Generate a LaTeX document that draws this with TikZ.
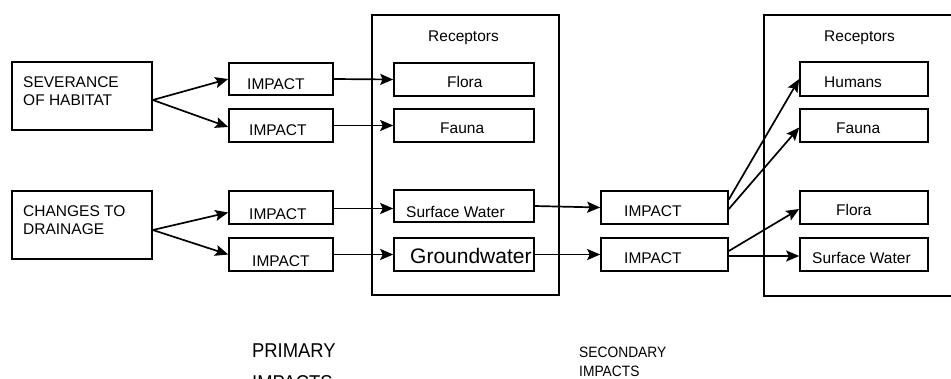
\documentclass[tikz,border=0pt]{standalone}
\usepackage{fontspec}
\setmainfont{Liberation Sans}
\usetikzlibrary{arrows.meta,calc}
\tikzset{
  bx/.style n args={2}{draw, line width=1.6pt, rectangle, inner sep=0pt, minimum width=#1, minimum height=#2},
  txt/.style={inner sep=0pt, anchor=base west, font=\fontsize{15.5}{18}\selectfont},
  arr/.style={line width=1.7pt, -{Stealth[length=13pt,width=11pt,inset=2.5pt]}},
  prim/.style={inner sep=0pt, anchor=base west, font=\fontsize{20}{24}\selectfont, xscale=0.92},
  secnd/.style={inner sep=0pt, anchor=base west, font=\fontsize{15}{18}\selectfont, xscale=0.92},
}
\begin{document}
\begin{tikzpicture}[x=1pt,y=-1pt]
\useasboundingbox (0,0) rectangle (951,378);
% source boxes
\node[bx={140pt}{68pt}] (sev) at (82,96) {};
\node[bx={140pt}{68pt}] (chg) at (82,225) {};
\node[txt] (tsev) at (23,87) {SEVERANCE};
\node[txt] (tsev2) at (23,105) {OF HABITAT};
\node[txt] (tchg) at (23,216) {CHANGES TO};
\node[txt] (tchg2) at (23,234) {DRAINAGE};
% primary impact boxes
\node[bx={104pt}{32pt}] (i1) at (281,79) {};
\node[bx={104pt}{33pt}] (i2) at (281,125.5) {};
\node[bx={104pt}{33pt}] (i3) at (281,207.5) {};
\node[bx={104pt}{33pt}] (i4) at (281,254.5) {};
\node[txt] (ti1) at (247,89) {IMPACT};
\node[txt] (ti2) at (249,135) {IMPACT};
\node[txt] (ti3) at (249,219) {IMPACT};
\node[txt] (ti4) at (252,266) {IMPACT};
% receptors 1
\node[bx={187pt}{280pt}] (rec1) at (465.5,155) {};
\node[txt] (trec1) at (428,41) {Receptors};
\node[bx={140pt}{33pt}] (fl1) at (464,79.5) {};
\node[bx={140pt}{33pt}] (fa1) at (464,125.5) {};
\node[bx={140pt}{32pt}] (sw1) at (464,206) {};
\node[bx={140pt}{33pt}] (gw1) at (464,254.5) {};
\node[txt] (tfl1) at (447,87) {Flora};
\node[txt] (tfa1) at (440,133) {Fauna};
\node[txt] (tsw1) at (406,217) {Surface Water};
\node[txt, font=\fontsize{21}{24}\selectfont] (tgw1) at (410,263) {Groundwater};
% secondary impact boxes
\node[bx={127pt}{33pt}] (s1) at (664.5,207.5) {};
\node[bx={127pt}{33pt}] (s2) at (664.5,254.5) {};
\node[txt] (ts1) at (624,216) {IMPACT};
\node[txt] (ts2) at (624,263) {IMPACT};
% receptors 2
\node[bx={196pt}{281pt}] (rec2) at (862,155.5) {};
\node[txt] (trec2) at (824,41) {Receptors};
\node[bx={128pt}{34pt}] (hum) at (864,79) {};
\node[bx={128pt}{33pt}] (fa2) at (864,125.5) {};
\node[bx={128pt}{33pt}] (fl2) at (864,207.5) {};
\node[bx={128pt}{33pt}] (sw2) at (864,254.5) {};
\node[txt] (thum) at (824,87) {Humans};
\node[txt] (tfa2) at (836,133) {Fauna};
\node[txt] (tfl2) at (836,215) {Flora};
\node[txt] (tsw2) at (812,263) {Surface Water};
% connectors
\draw[arr] ($(sev.east)+(0,4)$) -- (i1.west);
\draw[arr] ($(sev.east)+(0,4)$) -- ($(i2.west)+(0,1.5)$);
\draw[arr] ($(chg.east)+(0,5)$) -- ($(i3.west)+(0,5)$);
\draw[arr] ($(chg.east)+(0,5)$) -- (i4.west);
\draw[arr] (i1.east) -- (fl1.west);
\draw[arr] (i2.east) -- (fa1.west);
\draw[arr] ($(i3.east)+(0,1)$) -- ($(sw1.west)+(0,2.5)$);
\draw[arr] (i4.east) -- (gw1.west);
\draw[arr] (sw1.east) -- (s1.west);
\draw[arr] (gw1.east) -- (s2.west);
\draw[arr] ($(s1.east)+(0,-8)$) -- (hum.west);
\draw[arr] ($(s1.east)+(0,1.5)$) -- ($(fa2.west)+(0,2)$);
\draw[arr] ($(s2.east)+(0,-3.5)$) -- ($(fl2.west)+(0,1.5)$);
\draw[arr] ($(s2.east)+(0,1.5)$) -- ($(sw2.west)+(0,1.5)$);
% captions
\node[prim] (prim1) at (252,357) {PRIMARY};
\node[prim] (prim2) at (252,389) {IMPACTS};
\node[secnd] (sec1) at (579,357) {SECONDARY};
\node[secnd] (sec2) at (579,376) {IMPACTS};
\end{tikzpicture}
\end{document}
